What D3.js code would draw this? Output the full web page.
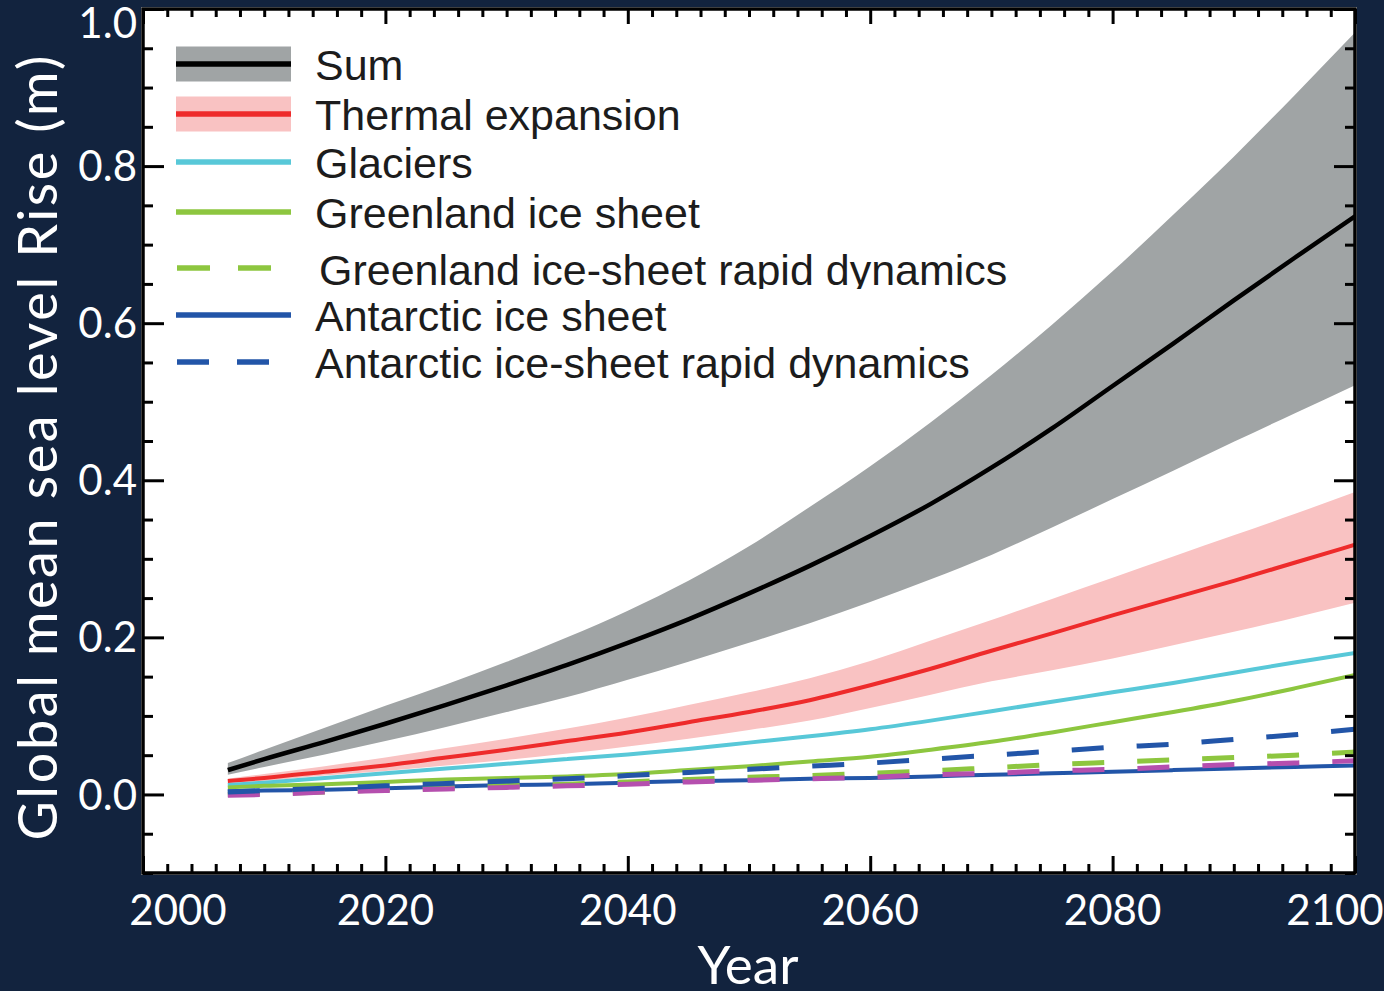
<!DOCTYPE html>
<html>
<head>
<meta charset="utf-8">
<script src="https://cdn.jsdelivr.net/npm/d3@7"></script>
<style>
  html, body { margin: 0; padding: 0; background: #12233e; }
  svg { display: block; }
</style>
</head>
<body>
<svg id="chart" width="1384" height="991"></svg>
<script>
// ---------------- DATA ----------------
const years = [2007, 2010, 2015, 2020, 2025, 2030, 2035, 2040, 2045, 2050, 2055, 2060, 2065, 2070, 2075, 2080, 2085, 2090, 2095, 2100];
const sumMedian     = [0.031, 0.045, 0.067, 0.090, 0.114, 0.139, 0.165, 0.193, 0.223, 0.256, 0.291, 0.329, 0.370, 0.416, 0.466, 0.520, 0.574, 0.629, 0.683, 0.736];
const sumLow        = [0.025, 0.035, 0.051, 0.068, 0.086, 0.105, 0.124, 0.146, 0.169, 0.193, 0.218, 0.245, 0.274, 0.305, 0.340, 0.376, 0.412, 0.449, 0.485, 0.521];
const sumHigh       = [0.040, 0.057, 0.085, 0.113, 0.140, 0.169, 0.200, 0.234, 0.272, 0.316, 0.366, 0.418, 0.474, 0.534, 0.598, 0.666, 0.738, 0.812, 0.890, 0.970];
const thermalMedian = [0.017, 0.021, 0.029, 0.037, 0.047, 0.057, 0.068, 0.079, 0.092, 0.105, 0.120, 0.139, 0.160, 0.183, 0.205, 0.228, 0.250, 0.272, 0.295, 0.318];
const thermalLow    = [0.014, 0.017, 0.024, 0.030, 0.037, 0.044, 0.052, 0.061, 0.071, 0.082, 0.094, 0.110, 0.127, 0.144, 0.158, 0.173, 0.190, 0.207, 0.225, 0.244];
const thermalHigh   = [0.020, 0.026, 0.036, 0.047, 0.059, 0.071, 0.084, 0.098, 0.114, 0.130, 0.148, 0.170, 0.196, 0.222, 0.249, 0.276, 0.303, 0.330, 0.357, 0.385];
const glaciers      = [0.012, 0.015, 0.021, 0.027, 0.033, 0.039, 0.045, 0.051, 0.058, 0.066, 0.074, 0.083, 0.094, 0.106, 0.118, 0.130, 0.142, 0.155, 0.168, 0.180];
const greenland     = [0.009, 0.011, 0.013, 0.016, 0.019, 0.021, 0.023, 0.026, 0.031, 0.036, 0.042, 0.048, 0.057, 0.067, 0.079, 0.092, 0.105, 0.119, 0.135, 0.152];
const antarctic     = [0.004, 0.005, 0.006, 0.008, 0.010, 0.012, 0.013, 0.015, 0.017, 0.018, 0.020, 0.021, 0.023, 0.025, 0.027, 0.029, 0.031, 0.033, 0.035, 0.037];
const greenlandRapid= [0.000, 0.001, 0.003, 0.006, 0.008, 0.011, 0.013, 0.016, 0.019, 0.022, 0.024, 0.027, 0.030, 0.034, 0.038, 0.041, 0.044, 0.047, 0.050, 0.054];
const antarcticRapid= [0.003, 0.005, 0.008, 0.011, 0.014, 0.017, 0.020, 0.024, 0.028, 0.032, 0.036, 0.040, 0.045, 0.050, 0.055, 0.060, 0.064, 0.070, 0.076, 0.083];
const landWater     = [-0.001, 0.000, 0.003, 0.005, 0.007, 0.009, 0.011, 0.013, 0.016, 0.018, 0.020, 0.022, 0.025, 0.027, 0.030, 0.032, 0.035, 0.038, 0.040, 0.043];

const xTickLabels = [2000, 2020, 2040, 2060, 2080, 2100];
const yTickLabels = [0.0, 0.2, 0.4, 0.6, 0.8, 1.0];
const legendLabels = ["Sum", "Thermal expansion", "Glaciers", "Greenland ice sheet",
  "Greenland ice-sheet rapid dynamics", "Antarctic ice sheet", "Antarctic ice-sheet rapid dynamics"];
const xTitle = "Year";
const yTitle = "Global mean sea level Rise (m)";

// ---------------- LAYOUT / STYLE ----------------
const W = 1384, H = 991;
const plot = { left: 143, right: 1355, top: 9, bottom: 873 };
const C = {
  bg: "#12233e", band: "#a0a4a5", sum: "#000000", pink: "#f9c2c2", red: "#ee2b2b",
  cyan: "#58c8d8", green: "#8dc63f", blue: "#2255a8", magenta: "#b54fae"
};
const labelFont = "Lato, 'Open Sans', sans-serif";
const legendFont = "'Liberation Sans', Arial, sans-serif";

const svg = d3.select("#chart");
svg.append("rect").attr("width", W).attr("height", H).attr("fill", C.bg);

const x = d3.scaleLinear().domain([2000, 2100]).range([plot.left, plot.right]);
const y = d3.scaleLinear().domain([-0.1, 1.0]).range([plot.bottom, plot.top]);

// white plot area
svg.append("rect")
  .attr("x", plot.left - 2).attr("y", plot.top - 2)
  .attr("width", plot.right - plot.left + 4).attr("height", plot.bottom - plot.top + 4)
  .attr("fill", "#ffffff");

svg.append("clipPath").attr("id", "plotclip").append("rect")
  .attr("x", plot.left).attr("y", plot.top)
  .attr("width", plot.right - plot.left).attr("height", plot.bottom - plot.top);

const g = svg.append("g").attr("clip-path", "url(#plotclip)");
const curve = d3.curveMonotoneX;

function band(lo, hi, fill) {
  const area = d3.area().curve(curve)
    .x((d, i) => x(years[i])).y0((d, i) => y(lo[i])).y1((d, i) => y(hi[i]));
  g.append("path").datum(years).attr("d", area).attr("fill", fill);
}
function line(vals, color, width, dash) {
  const ln = d3.line().curve(curve).x((d, i) => x(years[i])).y(d => y(d));
  const p = g.append("path").datum(vals).attr("d", ln)
    .attr("fill", "none").attr("stroke", color).attr("stroke-width", width);
  if (dash) p.attr("stroke-dasharray", dash);
}

band(sumLow, sumHigh, C.band);
band(thermalLow, thermalHigh, C.pink);
line(sumMedian, C.sum, 4.5);
line(thermalMedian, C.red, 4);
line(glaciers, C.cyan, 4);
line(greenland, C.green, 4);
line(antarctic, C.blue, 4);
line(greenlandRapid, C.green, 5, "32,33");
line(landWater, C.magenta, 5, "32,33");
line(antarcticRapid, C.blue, 5, "32,33");

// ---------------- AXES (inward ticks on all four sides) ----------------
const xMajor = d3.range(2000, 2101, 20);
const xMinor = d3.range(2000, 2101, 2).filter(v => v % 20 !== 0);
const yAll = d3.range(-2, 21).map(k => +(k * 0.05).toFixed(2));
const yMajor = yAll.filter(v => Math.abs(Math.round(v * 5) - v * 5) < 1e-6);
const yMinor = yAll.filter(v => Math.abs(Math.round(v * 5) - v * 5) >= 1e-6);

function axisGroup(axis, transform) {
  const a = svg.append("g").attr("transform", transform).call(axis);
  a.select(".domain").remove();
  a.selectAll("line").attr("stroke", "#000").attr("stroke-width", 3);
  a.selectAll("text").remove();
}
axisGroup(d3.axisBottom(x).tickValues(xMajor).tickSize(-17), `translate(0,${plot.bottom})`);
axisGroup(d3.axisBottom(x).tickValues(xMinor).tickSize(-9), `translate(0,${plot.bottom})`);
axisGroup(d3.axisTop(x).tickValues(xMajor).tickSize(-15), `translate(0,${plot.top})`);
axisGroup(d3.axisTop(x).tickValues(xMinor).tickSize(-8), `translate(0,${plot.top})`);
axisGroup(d3.axisLeft(y).tickValues(yMajor).tickSize(-21), `translate(${plot.left},0)`);
axisGroup(d3.axisLeft(y).tickValues(yMinor).tickSize(-10), `translate(${plot.left},0)`);
axisGroup(d3.axisRight(y).tickValues(yMajor).tickSize(-21), `translate(${plot.right},0)`);
axisGroup(d3.axisRight(y).tickValues(yMinor).tickSize(-10), `translate(${plot.right},0)`);

// frame
svg.append("rect")
  .attr("x", plot.left).attr("y", plot.top)
  .attr("width", plot.right - plot.left).attr("height", plot.bottom - plot.top)
  .attr("fill", "none").attr("stroke", "#000").attr("stroke-width", 3.5);

// tick labels (white, outside the frame)
svg.append("g").selectAll("text").data(yTickLabels).join("text")
  .attr("x", plot.left - 6)
  .attr("y", d => Math.max(y(d), 23))
  .attr("dy", "0.36em")
  .attr("text-anchor", "end")
  .attr("fill", "#ffffff").attr("font-family", labelFont).attr("font-size", 42)
  .text(d => d.toFixed(1));

svg.append("g").selectAll("text").data(xTickLabels).join("text")
  .attr("x", d => Math.min(Math.max(x(d), 178), 1335))
  .attr("y", 925)
  .attr("text-anchor", "middle")
  .attr("fill", "#ffffff").attr("font-family", labelFont).attr("font-size", 42)
  .text(d => d);

svg.append("text")
  .attr("x", 748).attr("y", 984).attr("text-anchor", "middle")
  .attr("fill", "#ffffff").attr("font-family", labelFont).attr("font-size", 53)
  .text(xTitle);

svg.append("text")
  .attr("transform", "translate(38,448) rotate(-90)")
  .attr("text-anchor", "middle").attr("dy", "0.35em")
  .attr("textLength", 785).attr("lengthAdjust", "spacing")
  .attr("fill", "#ffffff").attr("font-family", labelFont).attr("font-size", 54)
  .text(yTitle);

// ---------------- LEGEND ----------------
const legendRowY = [64, 114, 162, 212, 268, 315, 362];
const legendSpec = [
  { band: C.band, color: C.sum },
  { band: C.pink, color: C.red },
  { color: C.cyan },
  { color: C.green },
  { color: C.green, dash: "33,28" },
  { color: C.blue },
  { color: C.blue, dash: "32,28" }
];
svg.append("clipPath").attr("id", "legclip5").append("rect")
  .attr("x", 0).attr("y", 0).attr("width", W).attr("height", 289);

const leg = svg.append("g");
legendLabels.forEach((label, i) => {
  const cy = legendRowY[i];
  const s = legendSpec[i];
  if (s.band) {
    leg.append("rect").attr("x", 176).attr("y", cy - 17.5).attr("width", 115).attr("height", 35)
      .attr("fill", s.band);
  }
  leg.append("line").attr("x1", s.dash ? 177 : 176).attr("x2", s.dash ? 275 : 291)
    .attr("y1", cy).attr("y2", cy)
    .attr("stroke", s.color).attr("stroke-width", 5.5)
    .attr("stroke-dasharray", s.dash || null);
  const t = leg.append("text")
    .attr("x", i === 4 ? 319 : 315).attr("y", cy + (i === 4 ? 17 : 16))
    .attr("fill", "#1c1c1c").attr("font-family", legendFont).attr("font-size", 43)
    .text(label);
  if (i === 4) t.attr("clip-path", "url(#legclip5)");
});
</script>
</body>
</html>
